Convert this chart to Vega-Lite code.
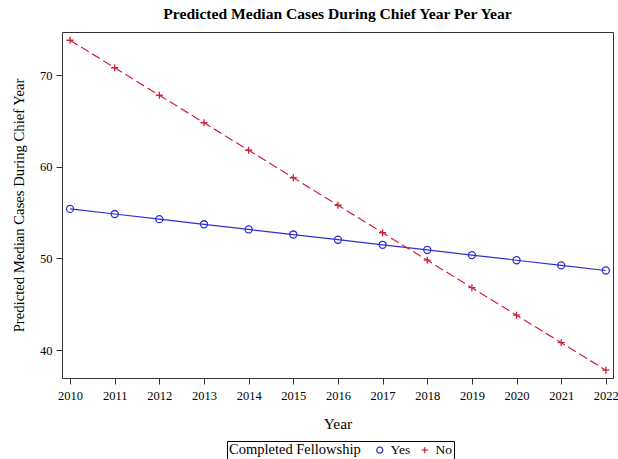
{
  "$schema": "https://vega.github.io/schema/vega-lite/v6.json",
  "autosize": {"type": "none"},
  "width": 551,
  "height": 346,
  "padding": {"left": 62, "top": 32, "right": 5, "bottom": 81},
  "background": "white",
  "title": {
    "text": "Predicted Median Cases During Chief Year Per Year",
    "font": "Liberation Serif",
    "fontSize": 15.6,
    "fontWeight": "bold",
    "color": "#000",
    "anchor": "middle",
    "offset": 9
  },
  "config": {
    "view": {"stroke": "#333", "strokeWidth": 1},
    "axis": {
      "labelFont": "Liberation Serif",
      "titleFont": "Liberation Serif",
      "labelFontSize": 12.5,
      "titleFontSize": 15.5,
      "titleFontWeight": "normal",
      "labelColor": "#000",
      "titleColor": "#000",
      "tickColor": "#333",
      "domain": false,
      "grid": false,
      "tickSize": 6
    },
    "legend": {
      "labelFont": "Liberation Serif",
      "titleFont": "Liberation Serif",
      "labelFontSize": 13.5,
      "titleFontSize": 14.5,
      "titleFontWeight": "normal",
      "labelColor": "#000",
      "titleColor": "#000"
    }
  },
  "data": {
    "values": [
      {"Year": 2010, "Cases": 55.4, "Fellowship": "Yes"},
      {"Year": 2011, "Cases": 54.84, "Fellowship": "Yes"},
      {"Year": 2012, "Cases": 54.28, "Fellowship": "Yes"},
      {"Year": 2013, "Cases": 53.72, "Fellowship": "Yes"},
      {"Year": 2014, "Cases": 53.16, "Fellowship": "Yes"},
      {"Year": 2015, "Cases": 52.6, "Fellowship": "Yes"},
      {"Year": 2016, "Cases": 52.04, "Fellowship": "Yes"},
      {"Year": 2017, "Cases": 51.48, "Fellowship": "Yes"},
      {"Year": 2018, "Cases": 50.92, "Fellowship": "Yes"},
      {"Year": 2019, "Cases": 50.36, "Fellowship": "Yes"},
      {"Year": 2020, "Cases": 49.8, "Fellowship": "Yes"},
      {"Year": 2021, "Cases": 49.24, "Fellowship": "Yes"},
      {"Year": 2022, "Cases": 48.68, "Fellowship": "Yes"},
      {"Year": 2010, "Cases": 73.8, "Fellowship": "No"},
      {"Year": 2011, "Cases": 70.8, "Fellowship": "No"},
      {"Year": 2012, "Cases": 67.8, "Fellowship": "No"},
      {"Year": 2013, "Cases": 64.8, "Fellowship": "No"},
      {"Year": 2014, "Cases": 61.8, "Fellowship": "No"},
      {"Year": 2015, "Cases": 58.8, "Fellowship": "No"},
      {"Year": 2016, "Cases": 55.8, "Fellowship": "No"},
      {"Year": 2017, "Cases": 52.8, "Fellowship": "No"},
      {"Year": 2018, "Cases": 49.8, "Fellowship": "No"},
      {"Year": 2019, "Cases": 46.8, "Fellowship": "No"},
      {"Year": 2020, "Cases": 43.8, "Fellowship": "No"},
      {"Year": 2021, "Cases": 40.8, "Fellowship": "No"},
      {"Year": 2022, "Cases": 37.8, "Fellowship": "No"}
    ]
  },
  "encoding": {
    "x": {
      "field": "Year",
      "type": "quantitative",
      "scale": {"domain": [2009.82, 2022.16], "nice": false, "zero": false},
      "axis": {"values": [2010,2011,2012,2013,2014,2015,2016,2017,2018,2019,2020,2021,2022], "format": "d", "title": "Year", "titlePadding": 15, "labelPadding": 5}
    },
    "y": {
      "field": "Cases",
      "type": "quantitative",
      "scale": {"domain": [36.95, 74.7], "nice": false, "zero": false},
      "axis": {"values": [40, 50, 60, 70], "title": "Predicted Median Cases During Chief Year", "titleFontSize": 14.7, "titlePadding": 13, "labelPadding": 4}
    }
  },
  "layer": [
    {
      "transform": [{"filter": "datum.Fellowship === 'Yes'"}],
      "mark": {"type": "line", "strokeWidth": 1.2, "color": "#3030d0"},
      "encoding": {}
    },
    {
      "transform": [{"filter": "datum.Fellowship === 'No'"}],
      "mark": {"type": "line", "strokeWidth": 1.2, "color": "#d0203a", "strokeDash": [9, 4]},
      "encoding": {}
    },
    {
      "mark": {"type": "point", "filled": false, "strokeWidth": 1.3, "opacity": 1},
      "encoding": {
        "color": {
          "field": "Fellowship", "type": "nominal",
          "scale": {"domain": ["Yes", "No"], "range": ["#3030d0", "#d0203a"]},
          "legend": {"title": "Completed Fellowship", "orient": "none", "legendX": 165, "legendY": 409, "direction": "horizontal", "titleOrient": "left", "strokeColor": "#000", "padding": 2, "symbolSize": 36, "columnPadding": 7, "symbolStrokeWidth": 1.2, "titlePadding": 12}
        },
        "shape": {
          "field": "Fellowship", "type": "nominal",
          "scale": {"domain": ["Yes", "No"], "range": ["circle", "M-1,0H1M0,-1V1"]},
          "legend": {"title": "Completed Fellowship", "orient": "none", "legendX": 165, "legendY": 409, "direction": "horizontal", "titleOrient": "left", "strokeColor": "#000", "padding": 2, "symbolSize": 36, "columnPadding": 7, "symbolStrokeWidth": 1.2, "titlePadding": 12}
        },
        "size": {"value": 50}
      }
    }
  ]
}
